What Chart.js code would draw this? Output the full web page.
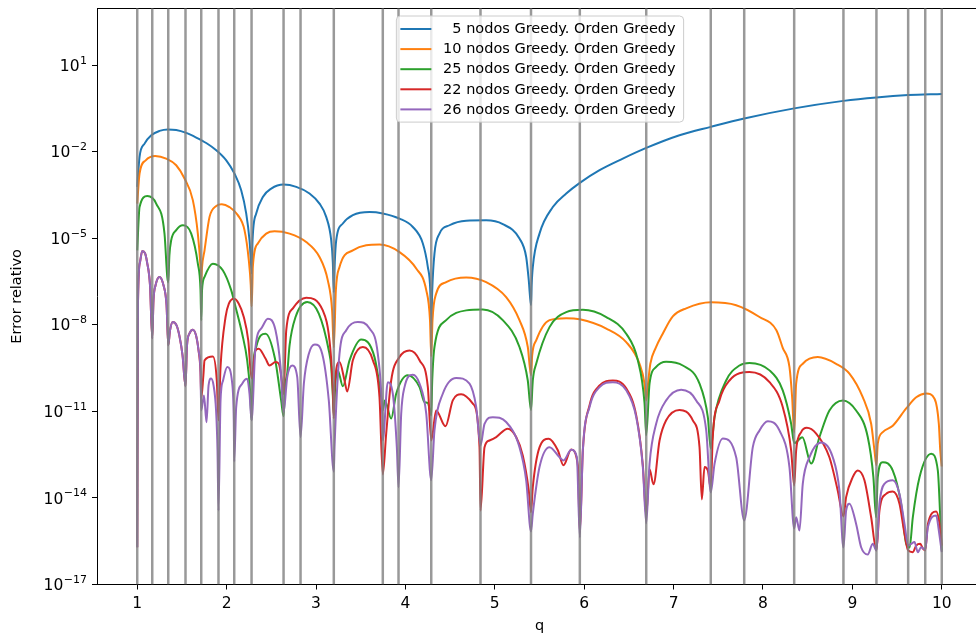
<!DOCTYPE html>
<html>
<head>
<meta charset="utf-8">
<script src="https://cdn.jsdelivr.net/npm/chart.js"></script>
<style>
  html, body { margin: 0; padding: 0; background: #fff; overflow: hidden; }
  #wrap { width: 976px; height: 639px; overflow: hidden; position: relative; background: #fff; }
  canvas { display: block; }
</style>
</head>
<body>
<div id="wrap"><canvas id="c" width="990" height="639"></canvas></div>
<script>
// ---- data (q, log10 of relative error) ----
const nodes = [1.0, 1.168, 1.347, 1.540, 1.716, 1.909, 2.085, 2.279, 2.637, 2.827, 3.199, 3.747, 3.923,
  4.289, 4.840, 5.405, 5.951, 6.694, 7.416, 7.790, 8.349, 8.900, 9.269, 9.624, 9.815, 10.0];

const xTickValues = [1, 2, 3, 4, 5, 6, 7, 8, 9, 10];
const yTickValues = [1e-17, 1e-14, 1e-11, 1e-8, 1e-5, 1e-2, 1e1];
const yTickBase = '10';
const yTickExponents = ['−17', '−14', '−11', '−8', '−5', '−2', '1'];

const seriesLabels = ['5 nodos Greedy. Orden Greedy', '10 nodos Greedy. Orden Greedy',
  '25 nodos Greedy. Orden Greedy', '22 nodos Greedy. Orden Greedy', '26 nodos Greedy. Orden Greedy'];
const seriesColors = ['#1f77b4', '#ff7f0e', '#2ca02c', '#d62728', '#9467bd'];

const logErr5 = [[1.000,-3.22],[1.026,-2.18],[1.082,-1.72],[1.157,-1.43],[1.249,-1.28],[1.342,-1.23],[1.436,-1.25],[1.548,-1.35],[1.660,-1.51],[1.772,-1.70],[1.884,-1.95],[1.996,-2.30],[2.088,-2.76],[2.163,-3.34],[2.219,-4.14],[2.256,-5.07],[2.268,-5.62],[2.279,-6.21],[2.283,-6.00],[2.290,-5.07],[2.331,-4.14],[2.405,-3.57],[2.499,-3.28],[2.637,-3.14],[2.779,-3.22],[2.927,-3.45],[3.039,-3.80],[3.114,-4.26],[3.170,-5.07],[3.188,-5.83],[3.199,-6.87],[3.210,-5.83],[3.226,-5.07],[3.300,-4.49],[3.412,-4.20],[3.599,-4.09],[3.747,-4.14],[3.934,-4.32],[4.083,-4.61],[4.195,-5.18],[4.251,-6.00],[4.278,-6.80],[4.289,-8.12],[4.300,-6.80],[4.325,-5.53],[4.381,-4.84],[4.493,-4.55],[4.680,-4.39],[4.903,-4.38],[5.089,-4.51],[5.276,-5.01],[5.351,-5.65],[5.380,-6.46],[5.405,-7.32],[5.412,-6.63],[5.425,-6.00],[5.500,-4.84],[5.649,-3.92],[5.799,-3.45],[5.951,-3.08],[6.172,-2.64],[6.432,-2.24],[6.694,-1.87],[7.066,-1.43],[7.416,-1.14],[7.790,-0.85],[8.349,-0.50],[8.900,-0.24],[9.269,-0.12],[9.624,-0.04],[10.0,0.00]];

const logErr10 = [[1.000,-3.80],[1.026,-2.76],[1.095,-2.30],[1.201,-2.15],[1.324,-2.24],[1.436,-2.47],[1.529,-2.93],[1.622,-3.68],[1.678,-4.84],[1.708,-6.00],[1.716,-6.56],[1.724,-6.04],[1.753,-5.42],[1.809,-4.26],[1.884,-3.88],[1.946,-3.82],[2.032,-3.92],[2.125,-4.20],[2.200,-4.72],[2.248,-5.76],[2.270,-6.63],[2.279,-7.36],[2.288,-6.63],[2.293,-6.00],[2.349,-5.18],[2.443,-4.84],[2.536,-4.76],[2.704,-4.84],[2.890,-5.13],[3.039,-5.65],[3.132,-6.46],[3.180,-7.50],[3.199,-8.78],[3.222,-6.80],[3.263,-6.00],[3.412,-5.42],[3.710,-5.22],[3.934,-5.48],[4.121,-6.05],[4.233,-6.80],[4.275,-7.84],[4.289,-9.09],[4.303,-7.84],[4.344,-6.92],[4.456,-6.52],[4.680,-6.36],[4.903,-6.52],[5.127,-7.04],[5.276,-7.84],[5.369,-8.77],[5.405,-9.75],[5.418,-9.06],[5.463,-8.54],[5.612,-7.84],[5.799,-7.77],[5.951,-7.81],[6.247,-8.13],[6.470,-8.60],[6.619,-9.35],[6.675,-10.04],[6.694,-10.62],[6.712,-10.10],[6.740,-9.35],[6.800,-8.80],[6.880,-8.30],[6.991,-7.71],[7.141,-7.43],[7.416,-7.22],[7.700,-7.32],[7.961,-7.73],[8.150,-8.19],[8.221,-8.80],[8.296,-9.46],[8.326,-10.51],[8.349,-11.73],[8.371,-10.04],[8.445,-9.35],[8.613,-9.12],[8.818,-9.35],[8.967,-9.69],[9.116,-10.51],[9.210,-11.43],[9.247,-12.35],[9.269,-12.87],[9.284,-12.12],[9.340,-11.72],[9.452,-11.50],[9.602,-10.90],[9.714,-10.51],[9.826,-10.38],[9.919,-10.56],[9.967,-11.43],[9.983,-12.35],[10.0,-12.91]];

const logErr25 = [[1.000,-5.42],[1.026,-3.92],[1.113,-3.54],[1.212,-3.80],[1.305,-4.84],[1.336,-6.34],[1.347,-6.53],[1.360,-5.59],[1.380,-5.07],[1.436,-4.72],[1.510,-4.55],[1.604,-4.84],[1.678,-5.88],[1.708,-6.80],[1.716,-7.84],[1.725,-6.80],[1.753,-6.34],[1.846,-5.88],[1.957,-6.11],[2.051,-6.80],[2.100,-7.38],[2.174,-8.31],[2.230,-9.23],[2.262,-10.27],[2.279,-11.31],[2.295,-9.58],[2.331,-8.77],[2.435,-8.31],[2.540,-9.16],[2.610,-10.62],[2.637,-11.17],[2.655,-10.10],[2.678,-9.68],[2.704,-8.71],[2.771,-7.73],[2.901,-7.21],[3.031,-7.61],[3.143,-8.89],[3.170,-9.46],[3.188,-10.45],[3.199,-11.14],[3.215,-10.10],[3.244,-9.58],[3.300,-10.13],[3.375,-9.23],[3.506,-8.51],[3.654,-9.12],[3.729,-10.51],[3.747,-10.96],[3.770,-10.62],[3.841,-11.25],[3.897,-10.39],[4.027,-9.75],[4.158,-10.16],[4.214,-10.68],[4.251,-10.71],[4.289,-11.14],[4.300,-9.93],[4.325,-8.77],[4.456,-7.84],[4.680,-7.50],[4.866,-7.47],[5.089,-7.84],[5.276,-8.77],[5.369,-9.93],[5.405,-10.96],[5.425,-9.93],[5.463,-9.35],[5.612,-8.08],[5.799,-7.56],[5.985,-7.48],[6.247,-7.73],[6.470,-8.31],[6.600,-9.23],[6.675,-10.72],[6.694,-11.83],[6.731,-10.04],[6.805,-9.46],[6.917,-9.28],[7.103,-9.41],[7.290,-10.04],[7.383,-11.20],[7.416,-12.29],[7.458,-11.20],[7.588,-9.93],[7.737,-9.41],[7.849,-9.32],[8.073,-9.58],[8.221,-10.27],[8.315,-11.43],[8.349,-12.10],[8.440,-11.90],[8.539,-12.81],[8.632,-11.89],[8.743,-10.97],[8.893,-10.62],[9.042,-10.97],[9.172,-11.89],[9.235,-13.28],[9.265,-14.67],[9.284,-13.28],[9.340,-12.76],[9.452,-13.05],[9.545,-14.20],[9.602,-15.59],[9.640,-15.72],[9.676,-14.67],[9.751,-13.28],[9.882,-12.47],[9.956,-13.05],[9.983,-14.67],[10.0,-15.82]];

const logErr22 = [[1.000,-15.71],[1.009,-7.15],[1.031,-5.83],[1.056,-5.44],[1.087,-5.52],[1.110,-5.83],[1.143,-6.63],[1.168,-8.47],[1.182,-7.15],[1.205,-6.63],[1.249,-6.34],[1.294,-6.63],[1.328,-7.32],[1.347,-8.71],[1.367,-8.19],[1.398,-7.90],[1.440,-8.02],[1.473,-8.40],[1.507,-9.06],[1.540,-10.13],[1.557,-8.71],[1.585,-8.30],[1.622,-8.17],[1.658,-8.37],[1.686,-8.89],[1.708,-9.65],[1.716,-10.55],[1.740,-9.75],[1.753,-9.23],[1.846,-9.10],[1.890,-9.93],[1.909,-11.31],[1.932,-9.46],[1.988,-7.73],[2.025,-7.27],[2.081,-7.10],[2.136,-7.27],[2.192,-7.73],[2.242,-8.54],[2.279,-9.86],[2.323,-8.89],[2.360,-8.83],[2.435,-9.17],[2.480,-9.41],[2.547,-9.29],[2.584,-9.35],[2.622,-10.04],[2.637,-10.40],[2.667,-8.19],[2.741,-7.43],[2.890,-7.06],[3.076,-7.50],[3.162,-8.89],[3.188,-10.27],[3.199,-11.24],[3.207,-10.16],[3.263,-9.29],[3.319,-9.93],[3.349,-10.31],[3.412,-9.23],[3.524,-8.77],[3.636,-9.23],[3.710,-10.51],[3.747,-13.19],[3.785,-11.77],[3.841,-9.93],[3.934,-9.12],[4.046,-8.89],[4.158,-9.23],[4.251,-10.16],[4.289,-12.01],[4.344,-10.97],[4.448,-11.52],[4.530,-10.62],[4.624,-10.41],[4.754,-10.73],[4.829,-12.24],[4.840,-14.44],[4.885,-12.24],[4.940,-12.01],[5.016,-11.89],[5.145,-11.60],[5.239,-11.89],[5.313,-12.53],[5.380,-13.74],[5.405,-14.50],[5.425,-13.63],[5.500,-12.25],[5.604,-11.95],[5.705,-12.35],[5.768,-12.87],[5.855,-12.32],[5.929,-12.87],[5.951,-15.20],[5.985,-12.35],[6.060,-10.79],[6.172,-10.10],[6.320,-9.93],[6.470,-10.20],[6.582,-11.14],[6.656,-12.87],[6.694,-14.61],[6.731,-13.01],[6.775,-13.53],[6.843,-12.01],[6.917,-11.31],[7.066,-10.95],[7.215,-11.31],[7.290,-12.24],[7.316,-14.05],[7.346,-12.93],[7.383,-13.05],[7.416,-13.67],[7.438,-11.89],[7.513,-10.62],[7.625,-9.93],[7.849,-9.64],[8.073,-9.99],[8.221,-10.85],[8.315,-12.35],[8.349,-13.57],[8.371,-12.35],[8.427,-11.72],[8.490,-11.57],[8.595,-11.77],[8.743,-12.59],[8.836,-13.74],[8.900,-14.64],[8.930,-13.97],[9.004,-13.28],[9.060,-13.05],[9.135,-13.39],[9.210,-14.67],[9.269,-15.82],[9.303,-14.44],[9.377,-13.86],[9.452,-13.78],[9.527,-14.20],[9.583,-15.24],[9.624,-15.82],[9.676,-15.88],[9.714,-15.65],[9.759,-15.59],[9.789,-15.76],[9.815,-15.82],[9.845,-14.90],[9.938,-14.47],[9.975,-14.90],[10.0,-15.65]];

const logErr26 = [[1.000,-15.71],[1.009,-7.15],[1.031,-5.83],[1.056,-5.44],[1.087,-5.52],[1.110,-5.83],[1.143,-6.63],[1.168,-8.47],[1.182,-7.15],[1.205,-6.63],[1.249,-6.34],[1.294,-6.63],[1.328,-7.32],[1.347,-8.71],[1.367,-8.19],[1.398,-7.90],[1.440,-8.02],[1.473,-8.40],[1.507,-9.06],[1.540,-10.13],[1.557,-8.71],[1.585,-8.30],[1.622,-8.17],[1.658,-8.37],[1.686,-8.89],[1.708,-9.65],[1.716,-10.97],[1.747,-10.45],[1.775,-11.38],[1.798,-10.10],[1.826,-9.86],[1.854,-10.10],[1.882,-10.97],[1.898,-12.35],[1.909,-14.44],[1.932,-10.62],[1.960,-9.93],[2.007,-9.46],[2.063,-10.04],[2.080,-11.31],[2.085,-12.74],[2.107,-10.85],[2.174,-10.04],[2.230,-9.87],[2.256,-10.39],[2.279,-11.31],[2.323,-8.77],[2.398,-8.08],[2.461,-7.79],[2.547,-8.19],[2.603,-9.46],[2.637,-11.04],[2.678,-9.81],[2.734,-9.41],[2.790,-9.81],[2.827,-11.90],[2.864,-10.04],[2.920,-9.00],[2.987,-8.68],[3.069,-9.00],[3.143,-10.62],[3.199,-13.09],[3.207,-12.24],[3.263,-9.00],[3.338,-8.19],[3.468,-7.90],[3.599,-8.13],[3.691,-9.00],[3.740,-11.08],[3.747,-12.01],[3.803,-9.99],[3.859,-10.39],[3.904,-12.24],[3.923,-13.63],[3.953,-11.08],[3.990,-10.16],[4.083,-9.73],[4.158,-10.04],[4.233,-11.08],[4.289,-13.39],[4.325,-11.66],[4.418,-10.39],[4.568,-9.84],[4.717,-10.04],[4.792,-10.85],[4.840,-12.18],[4.885,-11.43],[4.978,-11.20],[5.127,-11.37],[5.276,-12.24],[5.351,-13.39],[5.405,-15.16],[5.425,-14.55],[5.500,-12.93],[5.612,-12.24],[5.724,-12.59],[5.768,-12.70],[5.855,-12.33],[5.918,-12.59],[5.951,-15.37],[5.985,-12.35],[6.060,-10.85],[6.172,-10.16],[6.320,-9.99],[6.470,-10.27],[6.582,-11.20],[6.656,-12.93],[6.694,-14.88],[6.731,-12.82],[6.805,-11.43],[6.917,-10.62],[7.085,-10.25],[7.253,-10.62],[7.365,-11.66],[7.416,-13.81],[7.458,-12.82],[7.550,-11.94],[7.700,-12.59],[7.790,-14.78],[7.886,-12.24],[7.961,-11.66],[8.054,-11.34],[8.184,-11.66],[8.296,-12.93],[8.349,-15.06],[8.371,-14.67],[8.408,-15.13],[8.445,-13.51],[8.520,-12.59],[8.651,-12.08],[8.781,-12.59],[8.855,-13.74],[8.900,-15.72],[8.930,-14.44],[8.967,-14.20],[9.042,-14.90],[9.098,-15.71],[9.172,-15.96],[9.228,-15.59],[9.269,-15.82],[9.303,-14.20],[9.359,-13.51],[9.452,-13.39],[9.527,-13.86],[9.583,-14.90],[9.624,-15.65],[9.658,-15.59],[9.695,-15.53],[9.732,-15.88],[9.770,-15.71],[9.815,-15.79],[9.845,-15.01],[9.938,-14.61],[9.967,-15.13],[10.0,-15.88]];

// ---- axis limits ----
const X_MIN = 0.55, X_MAX = 10.45;
const Y_MIN = 1e-17, Y_MAX = 9.3e2;

// ---- build library structures ----
const toPoints = arr => arr.map(([q, lg]) => ({ x: q, y: Math.pow(10, lg) }));
const allSeries = [logErr5, logErr10, logErr25, logErr22, logErr26];

const datasets = allSeries.map((s, i) => ({
  label: seriesLabels[i],
  data: toPoints(s),
  borderColor: seriesColors[i],
  backgroundColor: seriesColors[i],
  borderWidth: 2,
  pointRadius: 0,
  fill: false,
  cubicInterpolationMode: 'monotone',
  order: 5 - i + 1
}));

const nodeLineData = [];
nodes.forEach(n => { nodeLineData.push({ x: n, y: Y_MIN }, { x: n, y: Y_MAX }, { x: n, y: null }); });
datasets.push({
  label: 'nodos',
  data: nodeLineData,
  borderColor: 'rgba(128,128,128,0.8)',
  borderWidth: 2.5,
  pointRadius: 0,
  tension: 0,
  spanGaps: false,
  fill: false,
  order: 0,
  inLegend: false
});

const FONT = "'DejaVu Sans', sans-serif";
Chart.defaults.font.family = FONT;
Chart.defaults.color = '#000';

const upperCenterLegend = {
  id: 'upperCenterLegend',
  afterDatasetsDraw(chart) {
    const { ctx, chartArea } = chart;
    const items = chart.data.datasets.filter(d => d.inLegend !== false);
    const fontSize = 14.5;
    ctx.save();
    ctx.font = fontSize + 'px ' + FONT;
    const textW = Math.max(...items.map(d => ctx.measureText(d.label).width));
    const padL = 4.5, handleLen = 31, gap = 11.7, padR = 7.5;
    const rowH = 20.1, firstRow = 13.5, bottomPad = 12.2;
    const w = padL + handleLen + gap + textW + padR;
    const h = firstRow + rowH * (items.length - 1) + bottomPad;
    const left = (chartArea.left + chartArea.right) / 2 - w / 2;
    const top = chartArea.top + 7.2;
    ctx.beginPath();
    ctx.roundRect(left + 0.5, top + 0.5, w, h, 4);
    ctx.fillStyle = 'rgba(255,255,255,0.8)';
    ctx.fill();
    ctx.strokeStyle = '#cccccc';
    ctx.lineWidth = 1;
    ctx.stroke();
    items.forEach((d, i) => {
      const cy = top + firstRow + i * rowH;
      ctx.beginPath();
      ctx.moveTo(left + padL, cy);
      ctx.lineTo(left + padL + handleLen, cy);
      ctx.strokeStyle = d.borderColor;
      ctx.lineWidth = 2;
      ctx.stroke();
      ctx.fillStyle = '#000';
      ctx.textAlign = 'right';
      ctx.textBaseline = 'middle';
      ctx.fillText(d.label, left + w - padR, cy + 0.5);
    });
    ctx.restore();
  }
};

// y tick labels as base + superscript exponent, placed through the y scale
const powerTickLabels = {
  id: 'powerTickLabels',
  afterDraw(chart) {
    const { ctx } = chart;
    const yScale = chart.scales.y;
    const right = yScale.right - 5 - 5;
    ctx.save();
    ctx.fillStyle = '#000';
    ctx.textAlign = 'right';
    ctx.textBaseline = 'alphabetic';
    yTickValues.forEach((v, i) => {
      const py = yScale.getPixelForValue(v);
      ctx.font = '11px ' + FONT;
      const ew = ctx.measureText(yTickExponents[i]).width;
      ctx.fillText(yTickExponents[i], right, py - 1.5);
      ctx.font = '15.5px ' + FONT;
      ctx.fillText(yTickBase, right - ew - 0.5, py + 5.6);
    });
    ctx.restore();
  }
};

const tickGrid = { display: true, drawOnChartArea: false, drawTicks: true, tickLength: 5, tickColor: '#000', tickWidth: 1 };

new Chart(document.getElementById('c'), {
  type: 'line',
  data: { datasets },
  options: {
    responsive: false,
    animation: false,
    devicePixelRatio: 1,
    layout: { padding: { left: 0, right: 8, top: 0, bottom: 0 } },
    plugins: { legend: { display: false }, tooltip: { enabled: false } },
    scales: {
      x: {
        type: 'linear', position: 'bottom', min: X_MIN, max: X_MAX,
        afterBuildTicks: s => { s.ticks = xTickValues.map(v => ({ value: v })); },
        afterFit: s => { s.height = 54.5; s.paddingLeft = 0; s.paddingRight = 0; },
        grid: tickGrid,
        border: { display: true, color: '#000', width: 1 },
        ticks: { font: { size: 15.5 }, padding: 5, maxRotation: 0, autoSkip: false, callback: v => String(v) },
        title: { display: true, text: 'q', font: { size: 14.5 }, padding: { top: 0, bottom: 4 } }
      },
      xTop: {
        type: 'linear', position: 'top', min: X_MIN, max: X_MAX,
        grid: { display: false },
        ticks: { display: false },
        border: { display: true, color: '#000', width: 1 },
        afterFit: s => { s.height = 8.3; s.paddingLeft = 0; s.paddingRight = 0; }
      },
      y: {
        type: 'logarithmic', position: 'left', min: Y_MIN, max: Y_MAX,
        afterBuildTicks: s => { s.ticks = yTickValues.map(v => ({ value: v })); },
        afterFit: s => { s.width = 97; s.paddingTop = 0; s.paddingBottom = 0; },
        grid: tickGrid,
        border: { display: true, color: '#000', width: 1 },
        ticks: { display: false, autoSkip: false },
        title: { display: true, text: 'Error relativo', font: { size: 14.5 }, padding: { top: 9, bottom: 0 } }
      }
    }
  },
  plugins: [upperCenterLegend, powerTickLabels]
});
</script>
</body>
</html>
